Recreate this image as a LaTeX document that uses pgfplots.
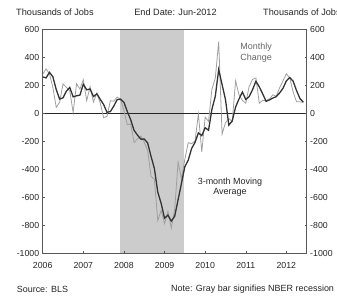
\documentclass[border=0pt]{standalone}
\usepackage{fontspec}
\setmainfont{Liberation Sans}
\usepackage{pgfplots}
\usepackage{pgfplotstable}
\pgfplotsset{compat=1.18}
\pgfplotstableread{
t m ma
0 277 258
1 315 251
2 280 290.7
3 182 259
4 40 167.3
5 77 99.7
6 207 108
7 184 156
8 157 182.7
9 4 115
10 208 123
11 171 127.7
12 238 205.7
13 88 165.7
14 188 171.3
15 78 118
16 144 136.7
17 71 97.7
18 -33 60.7
19 -24 4.7
20 88 10.3
21 84 49.3
22 114 95.3
23 98 98.7
24 17 76.3
25 -84 10.3
26 -78 -48.3
27 -210 -124
28 -185 -157.7
29 -165 -186.7
30 -209 -186.3
31 -266 -213.3
32 -452 -309
33 -473 -397
34 -769 -564.7
35 -695 -645.7
36 -791 -751.7
37 -703 -729.7
38 -823 -772.3
39 -686 -737.3
40 -351 -620
41 -470 -502.3
42 -329 -383.3
43 -212 -337
44 -219 -253.3
45 -200 -210.3
46 -7 -142
47 -279 -162
48 -30 -105.3
49 -60 -123
50 170 26.7
51 250 120
52 510 310
53 -150 203.3
54 -70 96.7
55 -40 -86.7
56 -60 -56.7
57 230 43.3
58 130 100
59 90 150
60 70 96.7
61 190 116.7
62 240 166.7
63 250 226.7
64 70 186.7
65 90 136.7
66 90 83.3
67 100 93.3
68 130 106.7
69 120 116.7
70 180 143.3
71 230 176.7
72 280 230
73 250 253.3
74 150 226.7
75 80 160
76 80 103.3
77 75 78.3
}\jobs
\begin{document}
\begin{tikzpicture}
\pgfplotsset{
  common/.style={
    at={(0,0)}, anchor=south west,
    scale only axis, width=264bp, height=224bp,
    xmin=2006, xmax=2012.5, ymin=-1000, ymax=600,
    ytick={-1000,-800,...,600},
    tick align=inside, major tick length=2bp,
    tick style={gray!70!black, line width=0.4pt},
    ticklabel style={font=\fontsize{8.8}{10}\selectfont, text=black!85},
    /pgf/number format/assume math mode=true,
    /pgf/number format/1000 sep={},
    axis line style={gray!70!black, line width=0.6pt},
  }
}
\begin{axis}[common,
  xtick={2006,2007,...,2012},
  xticklabel style={yshift=-6bp},
  ytick pos=left, xtick pos=bottom,
  axis on top,
]
\fill[gray!40] (axis cs:2007.9,-1000) rectangle (axis cs:2009.48,600);
\addplot[black!85, line width=0.6pt] coordinates {(2006,0) (2012.5,0)};
\addplot[gray!75, line width=0.8pt] table[x expr=2006+\thisrow{t}/12, y=m] {\jobs};
\addplot[black!80, line width=1.3pt] table[x expr=2006+\thisrow{t}/12, y=ma] {\jobs};
\node[font=\fontsize{9}{10.5}\selectfont, text=gray!80!black, align=left, anchor=west] at (axis cs:2010.78,432) {Monthly\\Change};
\node[font=\fontsize{9}{10.5}\selectfont, text=black!85, align=center] at (axis cs:2010.61,-529) {3-month Moving\\Average};
\end{axis}
\begin{axis}[common,
  axis x line=none, axis y line*=right,
  ytick pos=right,
]
\end{axis}
\node[font=\fontsize{9.2}{11}\selectfont, anchor=west, text=black!85] at (-30bp,241bp) {Thousands of Jobs};
\node[font=\fontsize{9.2}{11}\selectfont, text=black!85] at (132.8bp,241bp) {End Date: Jun-2012};
\node[font=\fontsize{9.2}{11}\selectfont, anchor=west, text=black!85] at (217bp,241bp) {Thousands of Jobs};
\node[font=\fontsize{9}{11}\selectfont, anchor=west, text=black!85] at (-29.4bp,-36bp) {Source: BLS};
\node[font=\fontsize{9}{11}\selectfont, anchor=west, text=black!85] at (125bp,-36bp) {Note: Gray bar signifies NBER recession};
\pgfresetboundingbox
\useasboundingbox (-42.7bp,-45bp) rectangle (294.3bp,253bp);
\end{tikzpicture}
\end{document}
